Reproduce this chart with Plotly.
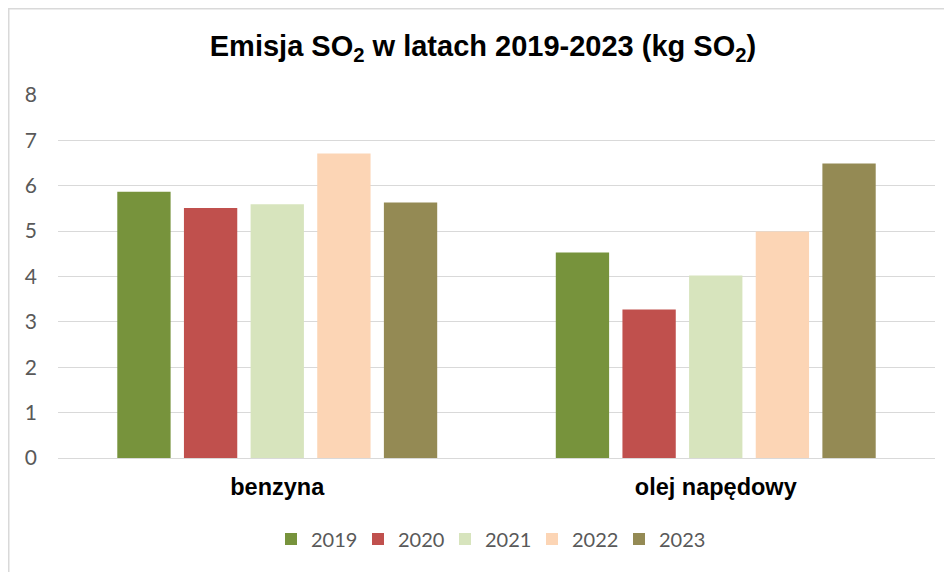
import plotly.graph_objects as go

categories = ["benzyna", "olej napędowy"]
years = ["2019", "2020", "2021", "2022", "2023"]
values_2019 = [5.87, 4.53]
values_2020 = [5.51, 3.27]
values_2021 = [5.59, 4.02]
values_2022 = [6.71, 4.99]
values_2023 = [5.63, 6.49]
series = [values_2019, values_2020, values_2021, values_2022, values_2023]
colors = ["#77933C", "#C0504D", "#D7E4BD", "#FCD5B5", "#948A54"]
y_ticks = [0, 1, 2, 3, 4, 5, 6, 7, 8]

L, R, T, B = 50, 25, 87, 122
PW, PH = 952 - L - R, 572 - T - B

fig = go.Figure()
for name, vals, col in zip(years, series, colors):
    fig.add_trace(go.Bar(name=name, x=categories, y=vals, marker=dict(color=col, line=dict(width=0))))

fig.update_layout(
    width=952, height=572,
    barmode="group", bargap=0.24, bargroupgap=0.2,
    paper_bgcolor="white", plot_bgcolor="white",
    margin=dict(l=L, r=R, t=T, b=B),
    title=dict(text="<b>Emisja SO<sub>2</sub> w latach 2019-2023 (kg SO<sub>2</sub>)</b>",
               x=475 / 952, xref="container", xanchor="center",
               y=1 - 38 / 572, yref="container", yanchor="middle",
               font=dict(family="Liberation Sans, Arial", size=29, color="black")),
    font=dict(family="Lato, Carlito, sans-serif", color="#595959"),
    legend=dict(orientation="h", x=(480.5 - L) / PW, xanchor="center", y=-81 / PH, yanchor="middle",
                font=dict(size=20, color="#595959"), itemwidth=30, traceorder="normal",
                entrywidth=42, entrywidthmode="pixels"),
    yaxis=dict(range=[0, 8], tickvals=y_ticks, showgrid=True, gridcolor="#D9D9D9", gridwidth=1,
               zeroline=False, showline=False, tickfont=dict(size=21, color="#595959"),
               ticks="", ticklabelstandoff=20),
    xaxis=dict(showline=True, linecolor="#D9D9D9", linewidth=1, ticks="",
               tickfont=dict(family="Liberation Sans, Arial", size=23.5, color="black"),
               ticklabelstandoff=8),
    shapes=[dict(type="rect", xref="paper", yref="paper",
                 x0=(0.75 - L) / PW, x1=1 + (R + 20) / PW,
                 y0=-(B + 20) / PH, y1=1 + (T - 0.75) / PH,
                 line=dict(color="#D9D9D9", width=1.5), fillcolor="rgba(0,0,0,0)")],
)
fig.update_xaxes(tickprefix="<b>", ticksuffix="</b>")

fig.write_html("out.html")
